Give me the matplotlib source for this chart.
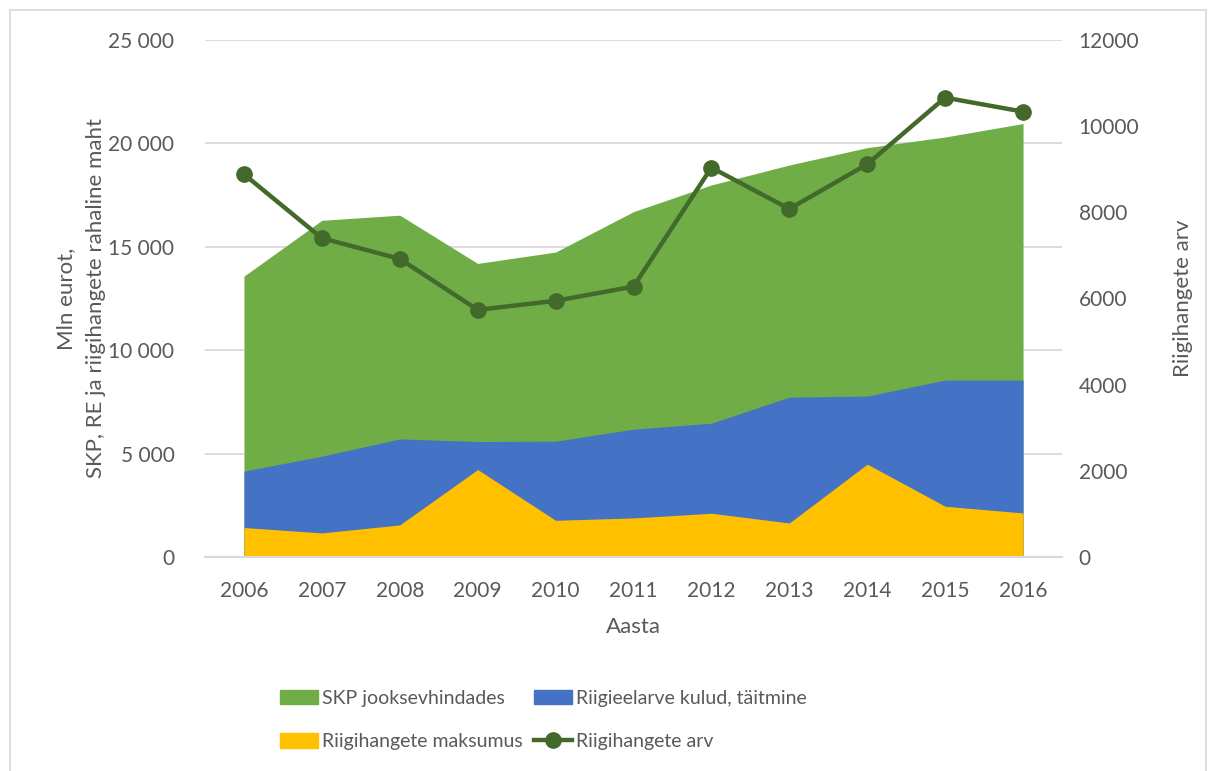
import matplotlib
matplotlib.use("Agg")
import matplotlib.pyplot as plt
from matplotlib.lines import Line2D
from matplotlib.patches import Patch, Rectangle
from matplotlib.ticker import FuncFormatter, MultipleLocator

plt.rcParams['font.family'] = ['Lato', 'DejaVu Sans']

years = [2006, 2007, 2008, 2009, 2010, 2011, 2012, 2013, 2014, 2015, 2016]
skp = [13580, 16280, 16530, 14195, 14745, 16700, 17990, 18955, 19795, 20310, 20960]
eelarve = [4150, 4875, 5710, 5585, 5600, 6180, 6470, 7730, 7780, 8555, 8555]
hanked_summa = [1425, 1165, 1550, 4230, 1775, 1890, 2115, 1645, 4490, 2455, 2130]
hanked_arv = [8885, 7400, 6920, 5737, 5946, 6277, 9038, 8080, 9117, 10662, 10337]

GREEN = '#70AD47'
BLUE = '#4472C4'
YELLOW = '#FFC000'
LINE = '#436A2B'
TEXT = '#595959'
GRID = '#D9D9D9'

fig = plt.figure(figsize=(12.16, 7.71), dpi=100)
ax = fig.add_axes([205 / 1216, 1 - 557 / 771, (1062 - 205) / 1216, (557 - 40) / 771])

ax.fill_between(years, skp, color=GREEN, lw=0, zorder=2)
ax.fill_between(years, eelarve, color=BLUE, lw=0, zorder=3)
ax.fill_between(years, hanked_summa, color=YELLOW, lw=0, zorder=4)

ax.set_xlim(2005.5, 2016.5)
ax.set_ylim(0, 25000)
ax.yaxis.set_major_locator(MultipleLocator(5000))
ax.yaxis.set_major_formatter(FuncFormatter(lambda v, p: f'{int(v):,}'.replace(',', ' ')))
ax.set_xticks(years)
ax.grid(axis='y', color=GRID, lw=1.3, zorder=0)
ax.set_axisbelow(True)
for s in ['top', 'right', 'left']:
    ax.spines[s].set_visible(False)
ax.spines['bottom'].set_color(GRID)
ax.spines['bottom'].set_linewidth(1.5)
ax.spines['bottom'].set_zorder(5)
ax.tick_params(axis='both', length=0, colors=TEXT, labelsize=15)
ax.tick_params(axis='y', pad=22)
ax.tick_params(axis='x', pad=17)
ax.set_xlabel('Aasta', color=TEXT, fontsize=16, labelpad=12)
ax.set_ylabel('Mln eurot,\nSKP, RE ja riigihangete rahaline maht', color=TEXT,
              fontsize=16, labelpad=2, linespacing=1.6)

ax2 = ax.twinx()
ax2.plot(years, hanked_arv, color=LINE, lw=3.2, marker='o', markersize=11, zorder=6)
ax2.set_ylim(0, 12000)
ax2.yaxis.set_major_locator(MultipleLocator(2000))
for s in ax2.spines.values():
    s.set_visible(False)
ax2.tick_params(axis='y', length=0, colors=TEXT, labelsize=15, pad=12)
ax2.set_ylabel('Riigihangete arv', color=TEXT, fontsize=16, labelpad=24)

# legend filled column by column, so order gives rows: green/blue, yellow/line
handles = [
    Patch(color=GREEN, label='SKP jooksevhindades'),
    Patch(color=YELLOW, label='Riigihangete maksumus'),
    Patch(color=BLUE, label='Riigieelarve kulud, täitmine'),
    Line2D([], [], color=LINE, lw=3.2, marker='o', markersize=11, label='Riigihangete arv'),
]
fig.legend(handles=handles, ncol=2, loc='upper left', bbox_to_anchor=(280 / 1216, 1 - 690 / 771),
           frameon=False, fontsize=14, labelcolor=TEXT, borderpad=0, borderaxespad=0,
           handlelength=1.95, handleheight=0.75, handletextpad=0.2, columnspacing=0.6,
           labelspacing=1.35)

fig.add_artist(Rectangle((10 / 1216, -0.01), 1196 / 1216, 1 - 10 / 771 + 0.01,
                         transform=fig.transFigure, fill=False, ec=GRID, lw=1.2))

fig.savefig('out.png', dpi=100, facecolor='white')
